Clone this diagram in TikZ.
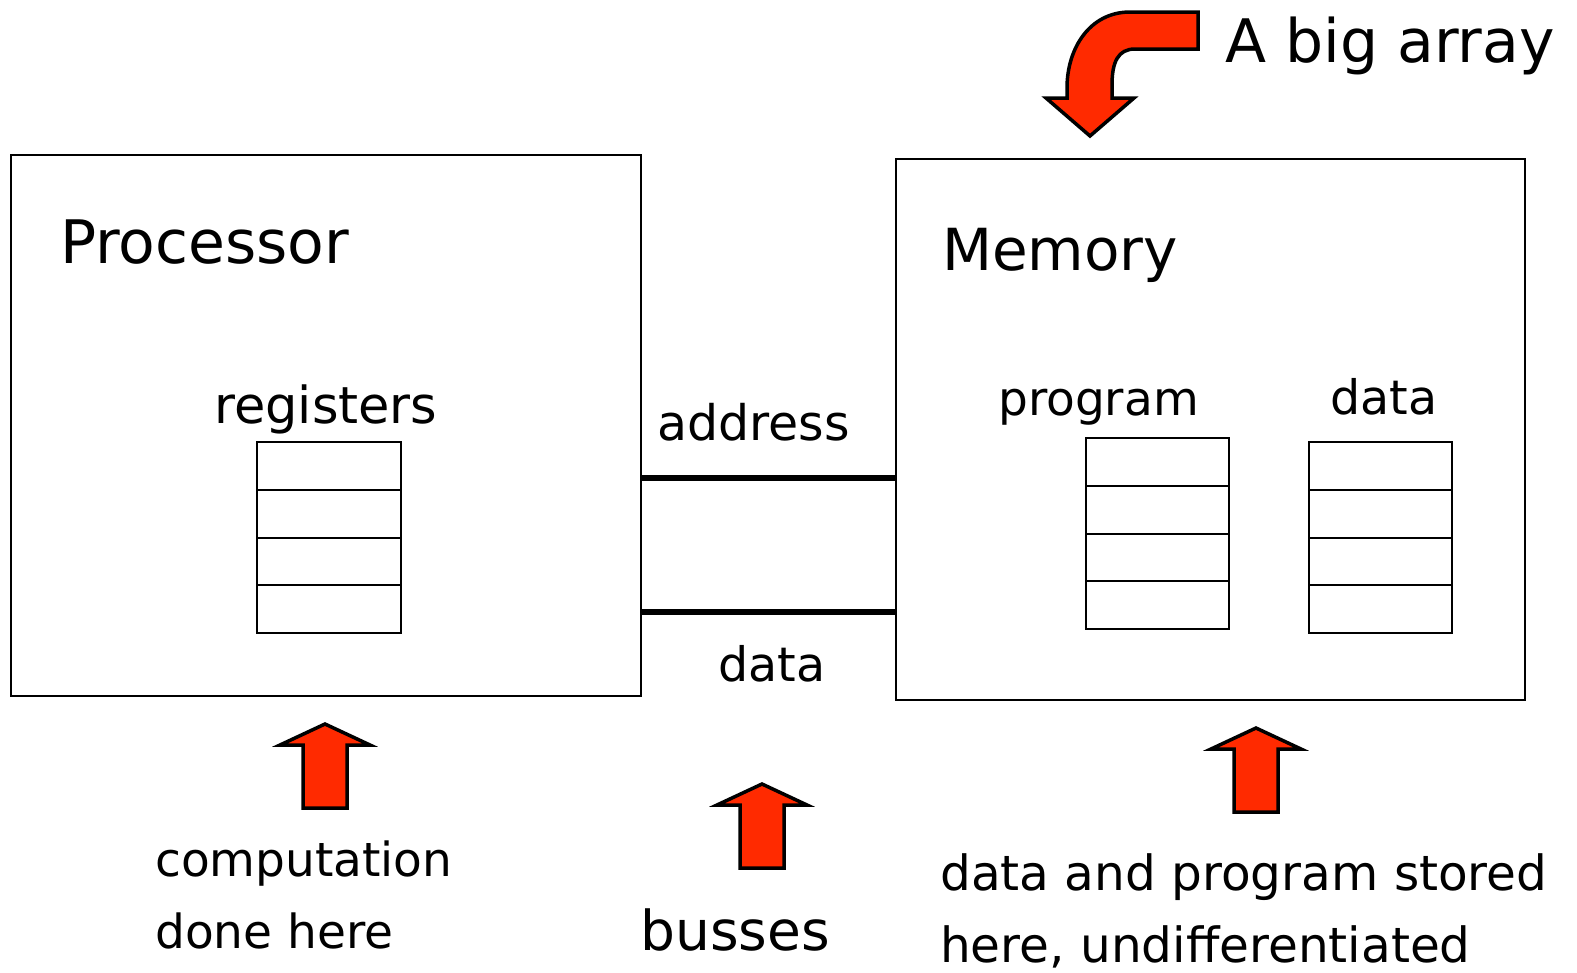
\documentclass[tikz,border=0pt]{standalone}
\usepackage{fontspec}
\setmainfont{DejaVu Sans}
\definecolor{arrowred}{RGB}{255,42,0}
\tikzset{
  box/.style={draw, line width=2pt},
  bus/.style={line width=6pt},
  blockarrow/.style={fill=arrowred, draw=black, line width=3.5pt, line join=miter},
  lbl/.style={anchor=base west, inner sep=0pt},
}
\begin{document}
\begin{tikzpicture}[x=1pt, y=-1pt]
      \useasboundingbox (0,0) rectangle (1577,972);
      % the two boxes
      \draw[box] (11,155) rectangle (641,696)
                 (896,159) rectangle (1525,700);
      \node (proc) [lbl, font=\fontsize{60}{72}\selectfont] at (60,263) {Processor};
      \node (mem) [lbl, font=\fontsize{58}{70}\selectfont] at (942,270) {Memory};
      % register stacks
      \foreach \i in {0,...,3} {
        \draw[box] (257,442+47.75*\i) rectangle ++(144,47.75)
                   (1086,438+47.75*\i) rectangle ++(143,47.75)
                   (1309,442+47.75*\i) rectangle ++(143,47.75);
      }
      \node (reg) [lbl, font=\fontsize{51}{60}\selectfont] at (214,423) {registers};
      \node (prog) [lbl, font=\fontsize{47}{56}\selectfont] at (998,415) {program};
      \node (memdata) [lbl, font=\fontsize{47.5}{56}\selectfont] at (1330,414) {data};
      % busses
      \coordinate (addrL) at (641,478);
      \coordinate (addrR) at (896,478);
      \coordinate (dataL) at (641,612);
      \coordinate (dataR) at (896,612);
      \draw[bus] (addrL) -- (addrR)
                 (dataL) -- (dataR);
      \node (addr) [lbl, font=\fontsize{49}{58}\selectfont] at (657,440) {address};
      \node (busdata) [lbl, font=\fontsize{47.5}{56}\selectfont] at (718,681) {data};
      % red arrows
      \foreach \x/\y in {325/724, 762/784, 1256/728}
        \draw[blockarrow, shift={(\x,\y)}] (0,0) -- (45,21) -- (22,21) -- (22,84)
              -- (-22,84) -- (-22,21) -- (-45,21) -- cycle;
      \draw[blockarrow] (1198,12) -- (1130,12) .. controls (1090,12) and (1067,48) .. (1067,88)
            -- (1067,98) -- (1046,98) -- (1090,136) -- (1134,98) -- (1112,98) -- (1112,85)
            .. controls (1112,62) and (1118,49) .. (1135,49) -- (1198,49) -- cycle;
      \node (big) [lbl, font=\fontsize{60}{72}\selectfont] at (1225,62) {A big array};
      % captions
      \node (comp) [lbl, font=\fontsize{47}{56}\selectfont] at (155,876) {computation};
      \node (done) [lbl, font=\fontsize{47}{56}\selectfont] at (155,948) {done here};
      \node (bus) [lbl, font=\fontsize{55}{66}\selectfont] at (640,950) {busses};
      \node (stored) [lbl, font=\fontsize{48.5}{56}\selectfont] at (940,890) {data and program stored};
      \node (undiff) [lbl, font=\fontsize{48.5}{56}\selectfont] at (940,962) {here, undifferentiated};
\end{tikzpicture}
\end{document}
